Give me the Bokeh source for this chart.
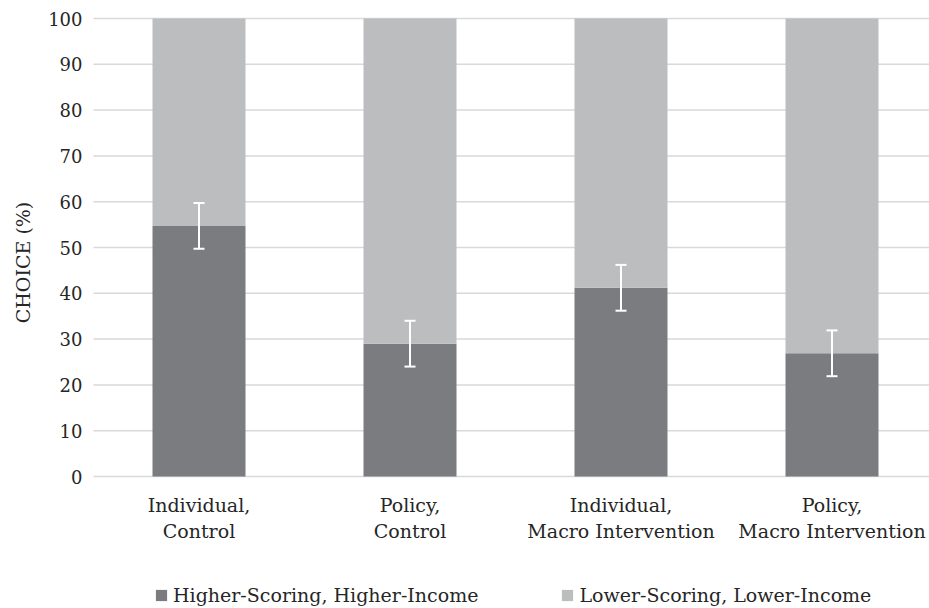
import math
from bokeh.plotting import figure
from bokeh.models import ColumnDataSource, Legend, LegendItem, Range1d, Whisker, TeeHead, Grid
from bokeh.core.properties import value
from bokeh.embed import file_html
from bokeh.resources import INLINE

categories = ["Individual,\nControl", "Policy,\nControl", "Individual,\nMacro Intervention", "Policy,\nMacro Intervention"]
higher = [54.7, 29.0, 41.2, 26.9]
lower = [100 - v for v in higher]
err = [5.0, 5.0, 5.0, 5.0]
series_names = ["Higher-Scoring, Higher-Income", "Lower-Scoring, Lower-Income"]
yticks = [0, 10, 20, 30, 40, 50, 60, 70, 80, 90, 100]
ytick_labels = [str(t) for t in yticks]
y_title = "CHOICE (%)"

DARK = "#7b7c80"
LIGHT = "#bcbdbf"
GRID = "#d9d9d9"
FONT = "DejaVu Serif"
TXT = "#262626"

# layout: the whole canvas is the frame; px -> data helpers
W, H = 929, 608
PX_PER_X = 211.0          # pixels per category
X_CENTER0 = 198.5         # pixel of first category centre
Y_TOP_PX, Y_ZERO_PX = 18.0, 476.0
PX_PER_Y = (Y_ZERO_PX - Y_TOP_PX) / 100.0


def dx(px):
    return (px - X_CENTER0) / PX_PER_X


def dy(py):
    return (Y_ZERO_PX - py) / PX_PER_Y


xs = list(range(len(categories)))
src = ColumnDataSource(dict(
    x=xs, higher=higher, lower=lower,
    top_all=[h + l for h, l in zip(higher, lower)],
    up=[h + e for h, e in zip(higher, err)],
    lo=[h - e for h, e in zip(higher, err)],
))

p = figure(width=W, height=H, output_backend="svg", toolbar_location=None,
           x_axis_location=None, y_axis_location=None,
           x_range=Range1d(dx(0), dx(W)), y_range=Range1d(dy(H), dy(0)))
p.min_border = 0
p.outline_line_color = None
p.background_fill_color = "white"
p.border_fill_color = "white"
for g in p.select(type=Grid):
    g.visible = False
    g.grid_line_color = None

# gridlines (y ticks), incl. the baseline at 0
p.segment(x0=[dx(93)] * len(yticks), x1=[dx(W)] * len(yticks), y0=yticks, y1=yticks,
          line_color=GRID, line_width=1.5)

r1 = p.vbar(x="x", width=93 / PX_PER_X, bottom=0, top="higher", source=src,
            fill_color=DARK, line_color=None)
r2 = p.vbar(x="x", width=93 / PX_PER_X, bottom="higher", top="top_all", source=src,
            fill_color=LIGHT, line_color=None)

wh = Whisker(base="x", upper="up", lower="lo", source=src, line_color="white", line_width=2,
             level="overlay",
             upper_head=TeeHead(size=11, line_color="white", line_width=2),
             lower_head=TeeHead(size=11, line_color="white", line_width=2))
p.add_layout(wh)

# y tick labels
p.text(x=[dx(82)] * len(yticks), y=yticks, text=ytick_labels,
       text_font=value(FONT), text_font_size="18px", text_color=TXT,
       text_align="right", text_baseline="middle")

# y axis title
p.text(x=[dx(22)], y=[dy(262)], text=[y_title], angle=math.pi / 2,
       text_font=value(FONT), text_font_size="19px", text_color=TXT,
       text_align="center", text_baseline="middle")

# category labels
p.text(x=xs, y=[dy(493)] * len(xs), text=categories,
       text_font=value(FONT), text_font_size="19px", text_color=TXT,
       text_align="center", text_baseline="top", text_line_height=1.2)

legend = Legend(items=[LegendItem(label=series_names[0], renderers=[r1]),
                       LegendItem(label=series_names[1], renderers=[r2])],
                orientation="horizontal", location=(154, 2),
                glyph_width=14, glyph_height=14, label_standoff=5, spacing=82,
                label_text_font=FONT, label_text_font_size="19px", label_text_color=TXT,
                border_line_color=None, background_fill_alpha=0, margin=0, padding=0)
p.add_layout(legend, "center")

open("out.html", "w").write(file_html(p, INLINE))
